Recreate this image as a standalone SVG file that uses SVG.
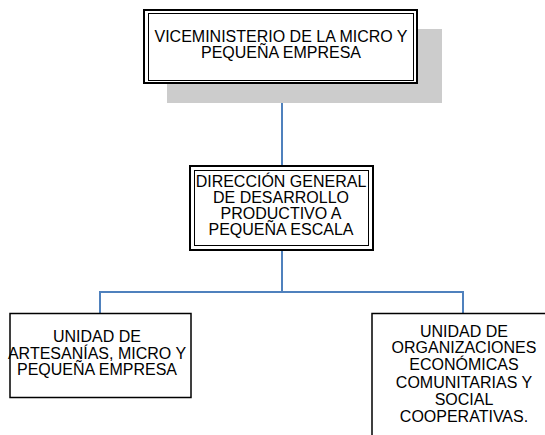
<svg xmlns="http://www.w3.org/2000/svg" width="545" height="435" viewBox="0 0 545 435">
<style>
text{font-family:"Liberation Sans",Arial,sans-serif;font-size:16px;fill:#000;text-anchor:middle}
.outer{fill:#fff;stroke:#000;stroke-width:2}
.inner{fill:none;stroke:#000;stroke-width:1}
.box{fill:#fff;stroke:#000;stroke-width:1.5}
.conn{fill:none;stroke:#4f81bd;stroke-width:2}
</style>
<rect width="545" height="435" fill="#fff"/>
<g id="connectors">
<path class="conn" d="M282 83V167"/>
<path class="conn" d="M282 250V292M100 292H463M100 291V313M463 291V313"/>
</g>
<g id="viceministerio">
<rect x="167" y="29" width="275" height="74" fill="#cccccc"/>
<rect class="outer" x="144" y="10" width="273" height="73"/>
<rect class="inner" x="148.5" y="13.5" width="265" height="67"/>
<text x="281" y="42">VICEMINISTERIO DE LA MICRO Y</text>
<text x="281" y="58">PEQUEÑA EMPRESA</text>
</g>
<g id="direccion">
<rect class="outer" x="190" y="166" width="183" height="84"/>
<rect class="inner" x="194.5" y="170.5" width="174" height="75"/>
<text x="281" y="187">DIRECCIÓN GENERAL</text>
<text x="281" y="203">DE DESARROLLO</text>
<text x="281" y="219">PRODUCTIVO A</text>
<text x="281" y="235">PEQUEÑA ESCALA</text>
</g>
<g id="unidad-artesanias">
<rect class="box" x="10" y="313.5" width="181" height="84"/>
<text x="97" y="342">UNIDAD DE</text>
<text x="97" y="359">ARTESANÍAS, MICRO Y</text>
<text x="97" y="375">PEQUEÑA EMPRESA</text>
</g>
<g id="unidad-organizaciones">
<rect class="box" x="372" y="313.5" width="184" height="130"/>
<text x="464" y="337">UNIDAD DE</text>
<text x="464" y="353">ORGANIZACIONES</text>
<text x="464" y="370">ECONÓMICAS</text>
<text x="464" y="388">COMUNITARIAS Y</text>
<text x="464" y="405">SOCIAL</text>
<text x="464" y="422">COOPERATIVAS.</text>
</g>
</svg>
